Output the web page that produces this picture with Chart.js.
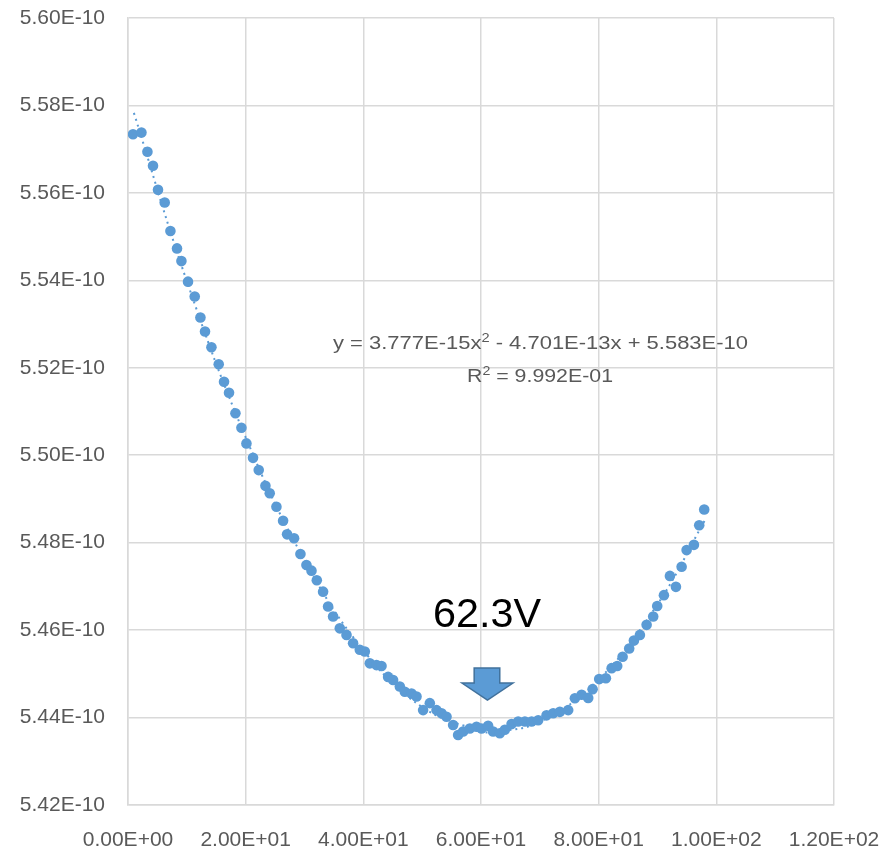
<!DOCTYPE html>
<html>
<head>
<meta charset="utf-8">
<script src="https://cdn.jsdelivr.net/npm/chart.js@4.4.1/dist/chart.umd.min.js"></script>
<style>
  html, body { margin: 0; padding: 0; background: #fff; }
  #wrap { width: 882px; height: 849px; position: relative; }
</style>
</head>
<body>
<div id="wrap"><canvas id="myChart"></canvas></div>
<script>
// measured points (x in V, y in F)
var xVals = [0.85, 2.28, 3.30, 4.25, 5.10, 6.24, 7.21, 8.33, 9.08, 10.20,
  11.34, 12.31, 13.09, 14.18, 15.42, 16.32, 17.17, 18.26, 19.28, 20.13,
  21.25, 22.22, 23.36, 24.09, 25.23, 26.36, 27.04, 28.23, 29.31, 30.33,
  31.19, 32.09, 33.16, 34.01, 34.86, 36.00, 37.14, 38.26, 39.40, 40.25,
  41.10, 42.24, 43.09, 44.21, 45.06, 46.20, 47.05, 48.19, 49.04, 50.16,
  51.30, 52.44, 53.29, 54.14, 55.26, 56.11, 56.96, 58.10, 59.24, 60.09,
  61.21, 62.06, 63.20, 64.05, 65.19, 66.32, 67.46, 68.60, 69.72, 71.14,
  72.27, 73.41, 74.82, 75.96, 77.10, 78.22, 78.97, 80.09, 81.23, 82.20,
  83.15, 84.07, 85.19, 85.99, 87.01, 88.15, 89.27, 89.95, 91.09, 92.11,
  93.13, 94.10, 94.95, 96.19, 97.09, 97.94];
var yVals = [5.5734, 5.5738, 5.5694, 5.5662, 5.5607, 5.5578, 5.5513, 5.5473, 5.5444, 5.5397,
  5.5363, 5.5315, 5.5283, 5.5247, 5.5208, 5.5168, 5.5143, 5.5096, 5.5063, 5.5027,
  5.4994, 5.4966, 5.4930, 5.4913, 5.4882, 5.4850, 5.4819, 5.4810, 5.4774, 5.4749,
  5.4736, 5.4714, 5.4688, 5.4654, 5.4631, 5.4604, 5.4589, 5.4570, 5.4555, 5.4551,
  5.4524, 5.4520, 5.4518, 5.4493, 5.4486, 5.4471, 5.4459, 5.4455, 5.4448, 5.4417,
  5.4433, 5.4417, 5.4410, 5.4402, 5.4383, 5.4360, 5.4368, 5.4375, 5.4379, 5.4375,
  5.4381, 5.4368, 5.4364, 5.4372, 5.4385, 5.4391, 5.4391, 5.4391, 5.4394, 5.4405,
  5.4410, 5.4413, 5.4417, 5.4444, 5.4452, 5.4445, 5.4465, 5.4488, 5.4490, 5.4513,
  5.4518, 5.4539, 5.4558, 5.4576, 5.4589, 5.4612, 5.4631, 5.4655, 5.4680, 5.4724,
  5.4699, 5.4745, 5.4783, 5.4795, 5.4840, 5.4876].map(function (v) { return v * 1e-10; });

// poly trendline values as shown by the chart's equation
var trendX = [1, 10, 20, 30, 40, 50, 60, 62.3, 70, 80, 90, 98];
var trendY = [5.5783, 5.5398, 5.5041, 5.4760, 5.4554, 5.4424, 5.4369, 5.4367, 5.4390, 5.4487, 5.4659, 5.4850].map(function (v) { return v * 1e-10; });

var xTicks = [0, 20, 40, 60, 80, 100, 120];
var yTicks = [5.42, 5.44, 5.46, 5.48, 5.50, 5.52, 5.54, 5.56, 5.58, 5.60].map(function (v) { return v * 1e-10; });

var eqLine1a = "y = 3.777E-15x";
var eqLine1b = " - 4.701E-13x + 5.583E-10";
var eqLine2a = "R";
var eqLine2b = " = 9.992E-01";
var peakLabel = "62.3V";
var peakX = 61.1;      // arrow tip position
var peakY = 5.4440e-10;

function sci(v) {
  var s = Number(v).toExponential(2).toUpperCase();
  var parts = s.split("E");
  var e = parseInt(parts[1], 10);
  var ea = Math.abs(e);
  return parts[0] + "E" + (e < 0 ? "-" : "+") + (ea < 10 ? "0" + ea : ea);
}

var pts = [];
for (var i = 0; i < xVals.length; i++) pts.push({ x: xVals[i], y: yVals[i] });
var trend = [];
for (var i = 0; i < trendX.length; i++) trend.push({ x: trendX[i], y: trendY[i] });

var blue = '#5B9BD5';
var gridCol = '#d9d9d9';
var textCol = '#595959';
var fontFam = '"Liberation Sans", Arial, sans-serif';

// draw text centred, squeezed/stretched to a given width
function partsWidth(ctx, parts) {
  var w = 0;
  parts.forEach(function (p) { ctx.font = p.font; w += ctx.measureText(p.t).width; });
  return w;
}
function drawParts(ctx, parts, cx, y, targetW) {
  var w = partsWidth(ctx, parts);
  var sx = targetW ? targetW / w : 1;
  ctx.save();
  ctx.translate(cx, y);
  ctx.scale(sx, 1);
  var x = -w / 2;
  parts.forEach(function (p) {
    ctx.font = p.font;
    ctx.fillText(p.t, x, p.dy || 0);
    x += ctx.measureText(p.t).width;
  });
  ctx.restore();
}

var notes = {
  id: 'notes',
  afterDatasetsDraw: function (chart) {
    var ctx = chart.ctx;
    var xs = chart.scales.x, ys = chart.scales.y;
    ctx.save();
    ctx.fillStyle = textCol;
    ctx.textBaseline = 'alphabetic';
    ctx.textAlign = 'left';
    var f = '18px ' + fontFam, fs = '12px ' + fontFam;
    drawParts(ctx, [{ t: eqLine1a, font: f }, { t: '2', font: fs, dy: -7 }, { t: eqLine1b, font: f }], 540.5, 349, 415);
    drawParts(ctx, [{ t: eqLine2a, font: f }, { t: '2', font: fs, dy: -7 }, { t: eqLine2b, font: f }], 540, 382, 146);

    ctx.fillStyle = '#000';
    drawParts(ctx, [{ t: peakLabel, font: '40px ' + fontFam }], 487, 627, 108);

    // block arrow pointing at the minimum
    var tx = xs.getPixelForValue(peakX), ty = ys.getPixelForValue(peakY);
    ctx.beginPath();
    ctx.moveTo(tx, ty);
    ctx.lineTo(tx - 25.5, ty - 17);
    ctx.lineTo(tx - 13.3, ty - 17);
    ctx.lineTo(tx - 13.3, ty - 32);
    ctx.lineTo(tx + 12.3, ty - 32);
    ctx.lineTo(tx + 12.3, ty - 17);
    ctx.lineTo(tx + 25.5, ty - 17);
    ctx.closePath();
    ctx.fillStyle = blue;
    ctx.fill();
    ctx.lineWidth = 1.5;
    ctx.strokeStyle = '#41719C';
    ctx.stroke();
    ctx.restore();
  }
};

var ctx = document.getElementById('myChart').getContext('2d');
var chart = new Chart(ctx, {
  type: 'scatter',
  data: {
    datasets: [
      {
        label: 'points',
        data: pts,
        backgroundColor: blue,
        borderColor: blue,
        borderWidth: 0,
        pointRadius: 5.3,
        pointHoverRadius: 5.3
      },
      {
        label: 'trend',
        type: 'line',
        data: trend,
        showLine: true,
        borderColor: blue,
        borderWidth: 2,
        borderDash: [2, 4],
        pointRadius: 0,
        tension: 0.4,
        fill: false
      }
    ]
  },
  options: {
    responsive: true,
    maintainAspectRatio: false,
    animation: false,
    events: [],
    layout: { padding: { left: 0, right: 48, top: 18, bottom: 0 } },
    plugins: { legend: { display: false }, tooltip: { enabled: false } },
    scales: {
      x: {
        type: 'linear',
        min: 0, max: 120,
        afterBuildTicks: function (s) { s.ticks = xTicks.map(function (v) { return { value: v }; }); },
        afterFit: function (s) { s.height = 44; s.paddingLeft = 0; s.paddingRight = 0; },
        grid: { color: gridCol, lineWidth: 1.5, drawTicks: false },
        border: { color: gridCol, width: 1.5 },
        ticks: {
          padding: 23,
          color: textCol,
          font: { family: fontFam, size: 21 },
          maxRotation: 0,
          autoSkip: false,
          callback: function (v) { return sci(v); }
        }
      },
      y: {
        type: 'linear',
        min: yTicks[0], max: yTicks[yTicks.length - 1],
        afterBuildTicks: function (s) { s.ticks = yTicks.map(function (v) { return { value: v }; }); },
        afterFit: function (s) { s.width = 128; s.paddingTop = 0; s.paddingBottom = 0; },
        grid: { color: gridCol, lineWidth: 1.5, drawTicks: false },
        border: { color: gridCol, width: 1.5 },
        ticks: {
          padding: 23,
          color: textCol,
          font: { family: fontFam, size: 21 },
          autoSkip: false,
          callback: function (v) { return sci(v); }
        }
      }
    }
  },
  plugins: [notes]
});
</script>
</body>
</html>
